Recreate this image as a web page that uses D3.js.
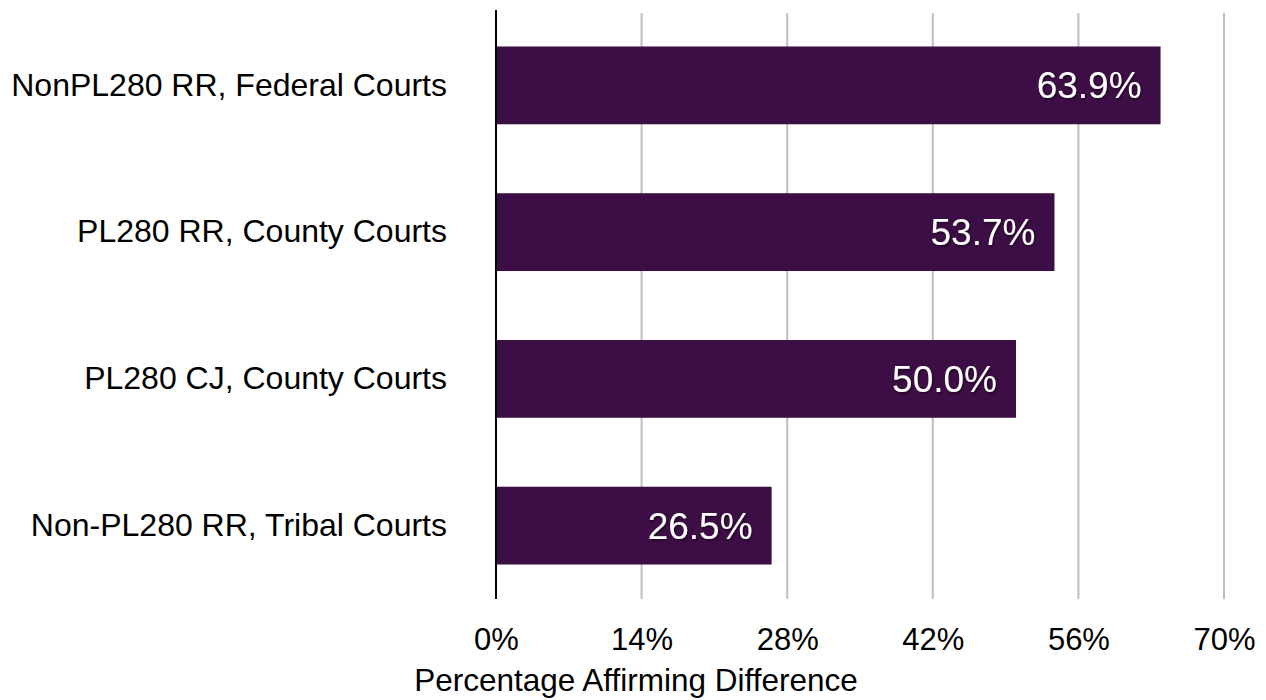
<!DOCTYPE html>
<html>
<head>
<meta charset="utf-8">
<script src="https://cdn.jsdelivr.net/npm/d3@7"></script>
<style>
  html, body { margin: 0; padding: 0; background: #fff; }
  svg { display: block; font-family: "Liberation Sans", Arial, sans-serif; }
</style>
</head>
<body>
<svg id="chart" width="1266" height="700"></svg>
<script>
// Court categories, top to bottom
const categories = [
  "NonPL280 RR, Federal Courts",
  "PL280 RR, County Courts",
  "PL280 CJ, County Courts",
  "Non-PL280 RR, Tribal Courts"
];
// Percentage affirming difference per category
const values = [63.9, 53.7, 50.0, 26.5];
// X-axis ticks
const tickValues = [0, 14, 28, 42, 56, 70];

const width = 1266;
const svg = d3.select("#chart");
const plotLeft = 496, plotRight = 1224, plotTop = 12, plotBottom = 599;

const x = d3.scaleLinear().domain([0, 70]).range([plotLeft, plotRight]);
const y = d3.scaleBand().domain(categories).range([plotTop, plotBottom])
  .paddingInner(0.47).paddingOuter(0.235);

// soft shadow for value labels
const defs = svg.append("defs");
const f = defs.append("filter").attr("id", "shadow").attr("x", "-20%").attr("y", "-20%").attr("width", "140%").attr("height", "140%");
f.append("feDropShadow").attr("dx", 1).attr("dy", 1.5).attr("stdDeviation", 1.2)
  .attr("flood-color", "#000").attr("flood-opacity", 0.55);

// vertical gridlines
svg.append("g").selectAll("line").data(tickValues.filter(d => d > 0)).join("line")
  .attr("x1", d => x(d)).attr("x2", d => x(d))
  .attr("y1", plotTop + 1).attr("y2", plotBottom)
  .attr("stroke", "#bfbfbf").attr("stroke-width", 2);

// bars
svg.append("g").selectAll("rect").data(values).join("rect")
  .attr("x", x(0))
  .attr("y", (d, i) => y(categories[i]))
  .attr("width", d => x(d) - x(0))
  .attr("height", y.bandwidth())
  .attr("fill", "#3d0d45");

// value labels inside bars
svg.append("g").selectAll("text").data(values).join("text")
  .attr("x", d => x(d) - 19)
  .attr("y", (d, i) => y(categories[i]) + y.bandwidth() / 2)
  .attr("dy", "0.35em")
  .attr("text-anchor", "end")
  .attr("fill", "#fff")
  .attr("font-size", 37)
  .attr("filter", "url(#shadow)")
  .text(d => d.toFixed(1) + "%");

// category axis (left)
const yAxis = d3.axisLeft(y).tickSize(0).tickPadding(49);
const gy = svg.append("g").attr("transform", `translate(${plotLeft},0)`).call(yAxis);
gy.select(".domain").remove();
gy.selectAll("text").attr("font-size", 32).attr("fill", "#000")
  .attr("font-family", "Liberation Sans, Arial, sans-serif");

// axis line at zero
svg.append("line")
  .attr("x1", x(0)).attr("x2", x(0))
  .attr("y1", plotTop - 2).attr("y2", plotBottom)
  .attr("stroke", "#000").attr("stroke-width", 2);

// x-axis tick labels
const xAxis = d3.axisBottom(x).tickValues(tickValues).tickSize(0).tickPadding(29)
  .tickFormat(d => d + "%");
const gx = svg.append("g").attr("transform", `translate(0,${plotBottom})`).call(xAxis);
gx.select(".domain").remove();
gx.selectAll("text").attr("font-size", 31).attr("fill", "#000")
  .attr("font-family", "Liberation Sans, Arial, sans-serif");

// x-axis title, centred on the chart area
svg.append("text")
  .attr("x", width / 2 + 3)
  .attr("y", 691)
  .attr("text-anchor", "middle")
  .attr("font-size", 31.5)
  .attr("fill", "#000")
  .text("Percentage Affirming Difference");
</script>
</body>
</html>
